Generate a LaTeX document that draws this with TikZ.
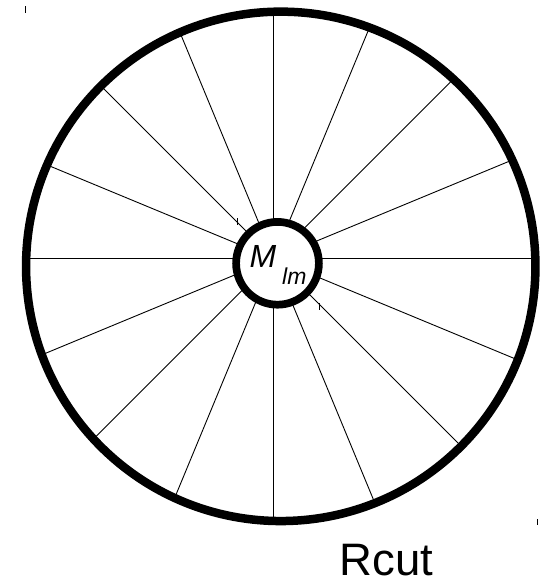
\documentclass[tikz,border=0pt]{standalone}
\usepackage{fontspec}
\setmainfont{Liberation Sans}
\begin{document}
\begin{tikzpicture}[x=1pt,y=-1pt,
  rim/.style={line width=8.5pt,black},
  hub/.style={line width=7.7pt,black,fill=white},
  spoke/.style={line width=0.9pt,black},
  tick/.style={line width=1pt,black},
  lbl/.style={inner sep=0pt,anchor=base west}]
\useasboundingbox (0,0) rectangle (551,579);
\coordinate (bc) at (280.75,266.35);
\coordinate (hc) at (277.5,263.3);
\coordinate (sc) at (273.7,258.8);
\begin{scope}
  \clip (bc) circle (254.7pt);
  \foreach \a in {0,22.5,...,337.5}
    \draw[spoke] (sc) -- ++(\a:320pt);
\end{scope}
\draw[hub] (hc) circle (41.4pt);
\draw[rim] (bc) circle (254.7pt);
\node[lbl] (m) at (249.5,267.5) {\fontsize{32pt}{32pt}\selectfont\itshape M};
\node[lbl] (lm) at (282,284.7) {\fontsize{23pt}{23pt}\selectfont\itshape lm};
\node[lbl] (rcut) at (339.5,575) {\fontsize{45.5pt}{45.5pt}\selectfont Rcut};
\coordinate (t1a) at (25,6);   \coordinate (t1b) at (25,13);
\coordinate (t2a) at (237,218); \coordinate (t2b) at (237,225);
\coordinate (t3a) at (319,303); \coordinate (t3b) at (319,310);
\coordinate (t4a) at (537,519); \coordinate (t4b) at (537,525);
\draw[tick] (t1a) -- (t1b);
\draw[tick] (t2a) -- (t2b);
\draw[tick] (t3a) -- (t3b);
\draw[tick] (t4a) -- (t4b);
\end{tikzpicture}
\end{document}
